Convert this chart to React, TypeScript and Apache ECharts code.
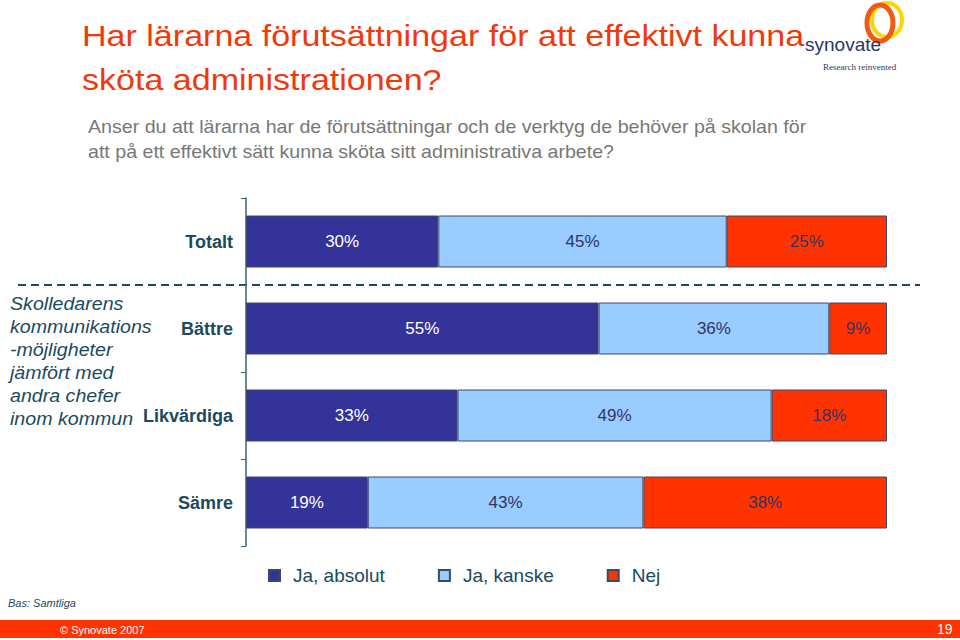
import React, { useEffect, useRef } from "react";
import * as echarts from "echarts";

const categories = ["Totalt", "Bättre", "Likvärdiga", "Sämre"];
const seriesNames = ["Ja, absolut", "Ja, kanske", "Nej"];
const jaAbsolut = [30, 55, 33, 19];
const jaKanske = [45, 36, 49, 43];
const nej = [25, 9, 18, 38];
const seriesColors = ["#333399", "#99CCFF", "#FF3300"];
const labelColors = ["#ffffff", "#333366", "#333366"];

const titleLines = ["Har lärarna förutsättningar för att effektivt kunna", "sköta administrationen?"];
const subtitleLines = [
  "Anser du att lärarna har de förutsättningar och de verktyg de behöver på skolan för",
  "att på ett effektivt sätt kunna sköta sitt administrativa arbete?",
];
const sideLines = ["Skolledarens", "kommunikations", "-möjligheter", "jämfört med", "andra chefer", "inom kommun"];

const TEAL = "#1b4a5e";
const FONT = "'Liberation Sans', Arial, sans-serif";

export default function App() {
  const ref = useRef<HTMLDivElement>(null);
  useEffect(() => {
    const chart = echarts.init(ref.current!, null, { renderer: "svg" });
    const data = [jaAbsolut, jaKanske, nej];
    const graphics: any[] = [];
    // logo rings
    graphics.push({
      type: "ellipse",
      shape: { cx: 0, cy: 0, rx: 15, ry: 17 },
      x: 887,
      y: 20,
      style: { fill: "none", stroke: "#FFD400", lineWidth: 4 },
    });
    graphics.push({
      type: "ellipse",
      shape: { cx: 0, cy: 0, rx: 13, ry: 18 },
      x: 880,
      y: 23,
      style: { fill: "none", stroke: "#F05A14", lineWidth: 5 },
    });
    graphics.push({
      type: "text",
      x: 805,
      y: 35,
      style: { text: "synovate", fill: "#1F3A68", font: `19px ${FONT}` },
    });
    graphics.push({
      type: "text",
      x: 823,
      y: 62,
      style: { text: "Research reinvented", fill: "#1F3A68", font: `9px 'Liberation Serif', serif` },
    });
    titleLines.forEach((t, i) =>
      graphics.push({
        type: "text",
        x: 82,
        y: 21 + i * 44,
        scaleX: 1.135,
        style: { text: t, fill: "#F0380C", font: `30px ${FONT}` },
        z: 5,
      })
    );
    subtitleLines.forEach((t, i) =>
      graphics.push({
        type: "text",
        x: 88,
        y: 118 + i * 25,
        scaleX: 1.09,
        style: { text: t, fill: "#777777", font: `18px ${FONT}` },
      })
    );
    sideLines.forEach((t, i) =>
      graphics.push({
        type: "text",
        x: 10,
        y: 295 + i * 23,
        scaleX: 1.09,
        style: { text: t, fill: TEAL, font: `italic 18px ${FONT}` },
      })
    );
    graphics.push({
      type: "line",
      shape: { x1: 18, y1: 285, x2: 920, y2: 285 },
      style: { stroke: TEAL, lineWidth: 2, lineDash: [8, 5] },
    });
    graphics.push({
      type: "text",
      x: 8,
      y: 597,
      style: { text: "Bas: Samtliga", fill: TEAL, font: `italic 11px ${FONT}` },
    });
    graphics.push({
      type: "rect",
      shape: { x: 0, y: 620, width: 960, height: 18 },
      style: { fill: "#FF3300" },
    });
    graphics.push({
      type: "text",
      x: 60,
      y: 624,
      style: { text: "© Synovate 2007", fill: "#ffffff", font: `11px ${FONT}` },
    });
    graphics.push({
      type: "text",
      x: 937,
      y: 622,
      style: { text: "19", fill: "#ffffff", font: `14px ${FONT}` },
    });

    chart.setOption({
      animation: false,
      textStyle: { fontFamily: FONT },
      grid: { left: 246, right: 73, top: 198, bottom: 94, containLabel: false },
      legend: {
        left: 268,
        top: 566,
        padding: 0,
        itemWidth: 11,
        itemHeight: 11,
        itemGap: 53,
        icon: "rect",
        data: seriesNames,
        textStyle: { fontSize: 19, color: TEAL, padding: [0, 0, 0, 8], fontFamily: FONT },
      },
      xAxis: {
        type: "value",
        min: 0,
        max: 100,
        show: false,
      },
      yAxis: {
        type: "category",
        data: categories,
        inverse: true,
        axisLine: { lineStyle: { color: "#336677", width: 1.5 } },
        axisTick: { show: true, length: 5, inside: false, lineStyle: { color: "#336677" } },
        axisLabel: { fontSize: 18, fontWeight: "bold", color: TEAL, margin: 13, fontFamily: FONT },
      },
      series: seriesNames.map((name, si) => ({
        name,
        type: "bar",
        stack: "total",
        data: data[si],
        barWidth: 52,
        itemStyle: { color: seriesColors[si], borderColor: "#3b4a66", borderWidth: 1 },
        label: {
          show: true,
          position: "inside",
          formatter: "{c}%",
          color: labelColors[si],
          fontSize: 17,
          fontFamily: FONT,
        },
      })),
      graphic: graphics,
    });
    return () => chart.dispose();
  }, []);
  return <div ref={ref} style={{ width: 960, height: 640, position: "absolute", left: 0, top: 0 }} />;
}
